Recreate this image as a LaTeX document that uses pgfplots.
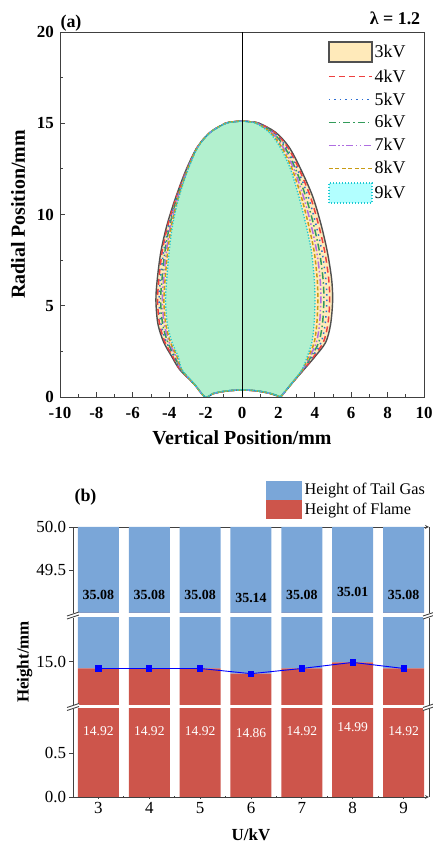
\documentclass[border=0pt]{standalone}
\usepackage{pgfplots}
\pgfplotsset{compat=1.18}
\usepackage{pgfplotstable}
\usepackage{fontspec}
\setmainfont{Liberation Serif}

\definecolor{c3fill}{RGB}{255,234,186}
\definecolor{c3line}{RGB}{80,80,80}
\definecolor{c4}{RGB}{238,64,64}
\definecolor{c5}{RGB}{45,110,210}
\definecolor{c6}{RGB}{50,155,90}
\definecolor{c7}{RGB}{175,110,225}
\definecolor{c8}{RGB}{200,155,20}
\definecolor{c9}{RGB}{30,200,210}
\definecolor{c9fill}{RGB}{0,255,255}
\definecolor{tailc}{RGB}{122,166,216}
\definecolor{flamec}{RGB}{205,85,75}

\pgfplotstableread{
y     x3    x4    x5    x6    x7    x8    x9
0     2.12  2.12  2.12  2.12  2.12  2.12  2.12
0.7   2.70  2.70  2.70  2.70  2.70  2.70  2.70
1.5   3.40  3.38  3.37  3.35  3.33  3.32  3.30
2.2   4.00  3.93  3.86  3.79  3.72  3.65  3.58
3.0   4.60  4.47  4.35  4.22  4.09  3.97  3.84
4.0   4.87  4.72  4.57  4.42  4.26  4.11  3.96
5.3   4.98  4.82  4.66  4.50  4.33  4.17  4.01
6.5   4.92  4.76  4.60  4.45  4.29  4.13  3.97
8.0   4.68  4.54  4.39  4.25  4.10  3.96  3.81
9.5   4.33  4.19  4.05  3.92  3.78  3.64  3.50
11.0  3.88  3.75  3.63  3.50  3.37  3.25  3.12
12.5  3.22  3.13  3.03  2.94  2.85  2.75  2.66
13.7  2.58  2.50  2.42  2.34  2.25  2.17  2.09
14.5  1.85  1.79  1.73  1.68  1.62  1.56  1.50
15.0  0.95  0.92  0.89  0.86  0.83  0.80  0.77
15.08 0.48  0.47  0.46  0.45  0.43  0.42  0.40
15.12 0     0     0     0     0     0     0
15.08 -0.47 -0.47 -0.47 -0.47 -0.47 -0.47 -0.47
15.0  -0.90 -0.90 -0.90 -0.90 -0.90 -0.90 -0.90
14.5  -1.75 -1.75 -1.75 -1.75 -1.75 -1.75 -1.75
13.7  -2.45 -2.45 -2.44 -2.44 -2.43 -2.43 -2.42
12.5  -3.05 -3.03 -3.02 -3.00 -2.98 -2.97 -2.95
11.0  -3.62 -3.59 -3.56 -3.54 -3.51 -3.48 -3.45
9.5   -4.10 -4.05 -4.00 -3.95 -3.90 -3.85 -3.80
8.0   -4.45 -4.38 -4.30 -4.23 -4.15 -4.08 -4.00
6.5   -4.65 -4.56 -4.48 -4.39 -4.30 -4.22 -4.13
5.3   -4.73 -4.64 -4.55 -4.47 -4.38 -4.29 -4.20
4.0   -4.62 -4.53 -4.45 -4.36 -4.27 -4.19 -4.10
3.0   -4.30 -4.23 -4.15 -4.08 -4.00 -3.93 -3.85
2.2   -3.85 -3.79 -3.73 -3.68 -3.62 -3.56 -3.50
1.5   -3.42 -3.40 -3.38 -3.36 -3.34 -3.32 -3.30
0.7   -2.62 -2.62 -2.62 -2.62 -2.62 -2.62 -2.62
0     -2.03 -2.03 -2.03 -2.03 -2.03 -2.03 -2.03
0.18  -1.60 -1.60 -1.60 -1.60 -1.60 -1.60 -1.60
0.29  -1.10 -1.10 -1.10 -1.10 -1.10 -1.10 -1.10
0.36  -0.55 -0.55 -0.55 -0.55 -0.55 -0.55 -0.55
0.38  0     0     0     0     0     0     0
0.36  0.55  0.55  0.55  0.55  0.55  0.55  0.55
0.29  1.10  1.10  1.10  1.10  1.10  1.10  1.10
0.18  1.60  1.60  1.60  1.60  1.60  1.60  1.60
0     2.12  2.12  2.12  2.12  2.12  2.12  2.12
}\flames

\pgfplotstableread{
U flame tail
3 14.92 35.08
4 14.92 35.08
5 14.92 35.08
6 14.86 35.14
7 14.92 35.08
8 14.99 35.01
9 14.92 35.08
}\bars

\pgfplotstableread{
U ytop toplab ybot botlab
3 49.21 35.08 0.750 14.92
4 49.21 35.08 0.750 14.92
5 49.21 35.08 0.750 14.92
6 49.17 35.14 0.724 14.86
7 49.21 35.08 0.750 14.92
8 49.24 35.01 0.790 14.99
9 49.21 35.08 0.750 14.92
}\labels

\pgfplotsset{
  arealegA/.style={legend image code/.code={\draw[##1] (0bp,-10bp) rectangle (43bp,10bp);}},
  arealegB/.style={legend image code/.code={\fill[##1] (0bp,-9.5bp) rectangle (36bp,9.5bp);}},
  bseg/.style={scale only axis, width=356bp, xmin=2.5, xmax=9.5, anchor=south west,
    axis line style={black!75, line width=0.8bp},
    every outer x axis line/.append style={-},
    every outer y axis line/.append style={-},
    every inner x axis line/.append style={-},
    every inner y axis line/.append style={-},
    every tick/.style={black!75, line width=0.8bp},
    /pgf/number format/assume math mode=true,
    tick label style={font=\fontsize{17}{17}\selectfont},
    yticklabel style={/pgf/number format/fixed, /pgf/number format/fixed zerofill, /pgf/number format/precision=1},
    tick align=outside, major tick length=3.5bp, minor tick length=2bp},
  bbars/.style={bseg, ybar stacked, bar width=41bp},
}

\begin{document}
\begin{tikzpicture}
\useasboundingbox (0,0) rectangle (433bp,843bp);

% ---------------- panel (a) ----------------
\begin{axis}[
  at={(60bp,446bp)}, anchor=south west, scale only axis,
  width=364bp, height=365bp,
  xmin=-10, xmax=10, ymin=0, ymax=20,
  xtick={-10,-8,...,10}, ytick={0,5,...,20},
  minor x tick num=1, minor y tick num=1,
  xtick pos=bottom, ytick pos=left, tick align=inside,
  major tick length=4.5bp, minor tick length=2.5bp,
  axis line style={black!75, line width=0.8bp},
  every tick/.style={black!75, line width=0.8bp},
  /pgf/number format/assume math mode=true,
  tick label style={font=\bfseries\fontsize{17}{17}\selectfont, inner sep=1bp},
  xticklabel style={yshift=-9bp},
  yticklabel style={xshift=-5bp},
  xlabel={Vertical Position/mm}, ylabel={Radial Position/mm},
  every axis x label/.style={at={(axis description cs:0.5,-0.1123)}, anchor=center, font=\bfseries\fontsize{20}{20}\selectfont},
  every axis y label/.style={at={(axis description cs:-0.1154,0.5)}, anchor=center, rotate=90, font=\bfseries\fontsize{20}{20}\selectfont},
  legend style={at={(0.958,0.978)}, anchor=north east, draw=none, fill=white,
    font=\fontsize{18}{18}\selectfont, row sep=5bp, inner sep=1bp, nodes={inner sep=2bp}},
  legend cell align=left,
  legend image code/.code={\draw[#1] (0bp,0bp) -- (43bp,0bp);},
]
\addplot[fill=c3fill, draw=c3line, line width=1.4bp, smooth, tension=0.5, arealegA]
  table[x=x3,y=y]{\flames};
\addlegendentry{3kV}
\addplot[c4, line width=1.5bp, smooth, tension=0.5, dash pattern=on 6bp off 4bp] table[x=x4,y=y]{\flames};
\addlegendentry{4kV}
\addplot[c5, line width=1.5bp, smooth, tension=0.5, dash pattern=on 1.5bp off 4bp] table[x=x5,y=y]{\flames};
\addlegendentry{5kV}
\addplot[c6, line width=1.5bp, smooth, tension=0.5, dash pattern=on 7bp off 3bp on 1.5bp off 3bp] table[x=x6,y=y]{\flames};
\addlegendentry{6kV}
\addplot[c7, line width=1.5bp, smooth, tension=0.5, dash pattern=on 7bp off 2.5bp on 1.5bp off 2.5bp on 1.5bp off 2.5bp] table[x=x7,y=y]{\flames};
\addlegendentry{7kV}
\addplot[c8, line width=1.5bp, smooth, tension=0.5, dash pattern=on 4bp off 2.5bp] table[x=x8,y=y]{\flames};
\addlegendentry{8kV}
\addplot[fill=c9fill, fill opacity=0.3, draw=c9, line width=1.3bp, smooth, tension=0.5, dash pattern=on 1.3bp off 1.7bp, arealegA]
  table[x=x9,y=y]{\flames};
\addlegendentry{9kV}
\addplot[black, line width=1bp, forget plot] coordinates {(0,0) (0,20)};
\end{axis}

\node[font=\bfseries\fontsize{18}{18}\selectfont] at (71bp,820bp) {(a)};
\node[font=\bfseries\fontsize{18}{18}\selectfont] at (395bp,824.5bp) {λ = 1.2};

% ---------------- panel (b) ----------------
% bottom segment 0..1
\begin{axis}[bbars, at={(73bp,46bp)}, height=88bp, ymin=0, ymax=1,
  axis x line=bottom, axis y line=box,
  xtick={3,...,9}, minor x tick num=1, ytick={0,0.5}, ytick pos=left, xtick pos=bottom,
  xlabel={U/kV},
  every axis x label/.style={at={(axis description cs:0.5,-0.43)}, anchor=center, font=\bfseries\fontsize{17}{17}\selectfont}]
\addplot[fill=flamec, draw=none] table[x=U,y=flame]{\bars};
\addplot[fill=tailc, draw=none] table[x=U,y=tail]{\bars};
\end{axis}
\begin{axis}[bseg, at={(73bp,46bp)}, height=88bp, ymin=0, ymax=1, hide axis, clip=false]
\addplot[draw=none, mark=none, nodes near coords, point meta=explicit symbolic,
  every node near coord/.append style={anchor=center, text=white, font=\fontsize{13.6}{13.6}\selectfont}]
  table[x=U, y=ybot, meta=botlab]{\labels};
\end{axis}

% middle segment 14.5..15.5
\begin{axis}[bbars, at={(73bp,138bp)}, height=87bp, ymin=14.5, ymax=15.5,
  axis x line=none, axis y line=box, xtick=\empty, ytick={15}, ytick pos=left]
\addplot[fill=flamec, draw=none] table[x=U,y=flame]{\bars};
\addplot[fill=tailc, draw=none] table[x=U,y=tail]{\bars};
\end{axis}
\begin{axis}[bseg, at={(73bp,138bp)}, height=87bp, ymin=14.5, ymax=15.5, hide axis]
\addplot[blue, line width=0.9bp, mark=square*, mark size=2.6bp, mark options={solid}] table[x=U,y=flame]{\bars};
\end{axis}

% top segment 49..50
\begin{axis}[bbars, at={(73bp,230bp)}, height=86bp, ymin=49, ymax=50,
  axis x line=top, axis y line=box, xtick=\empty, ytick={49.5,50}, ytick pos=left,
  reverse legend,
  legend style={at={(0.995,1.09)}, anchor=south east, draw=none, fill=none,
    font=\fontsize{16.3}{16.3}\selectfont, row sep=0.5bp, inner sep=0pt, nodes={inner sep=2.2bp}},
  legend cell align=left]
\addplot[fill=flamec, draw=none, arealegB] table[x=U,y=flame]{\bars};
\addlegendentry{Height of Flame}
\addplot[fill=tailc, draw=none, arealegB] table[x=U,y=tail]{\bars};
\addlegendentry{Height of Tail Gas}
\end{axis}
\begin{axis}[bseg, at={(73bp,230bp)}, height=86bp, ymin=49, ymax=50, hide axis, clip=false]
\addplot[draw=none, mark=none, nodes near coords, point meta=explicit symbolic,
  every node near coord/.append style={anchor=center, text=black, font=\bfseries\fontsize{14}{14}\selectfont}]
  table[x=U, y=ytop, meta=toplab]{\labels};
\end{axis}

% axis break symbols
\foreach \bx in {73,429}{
  \foreach \by in {227.5,136}{
    \fill[white] (\bx bp-6bp,\by bp-3.5bp) -- (\bx bp+6bp,\by bp+0.5bp) -- (\bx bp+6bp,\by bp+3.5bp) -- (\bx bp-6bp,\by bp-0.5bp) -- cycle;
    \draw[black!75, line width=0.8bp] (\bx bp-6bp,\by bp-3.5bp) -- (\bx bp+6bp,\by bp+0.5bp);
    \draw[black!75, line width=0.8bp] (\bx bp-6bp,\by bp-0.5bp) -- (\bx bp+6bp,\by bp+3.5bp);
  }
}

\node[font=\bfseries\fontsize{17}{17}\selectfont, rotate=90] at (24.5bp,181bp) {Height/mm};
\node[font=\bfseries\fontsize{18}{18}\selectfont] at (85.5bp,346bp) {(b)};
\end{tikzpicture}
\end{document}
